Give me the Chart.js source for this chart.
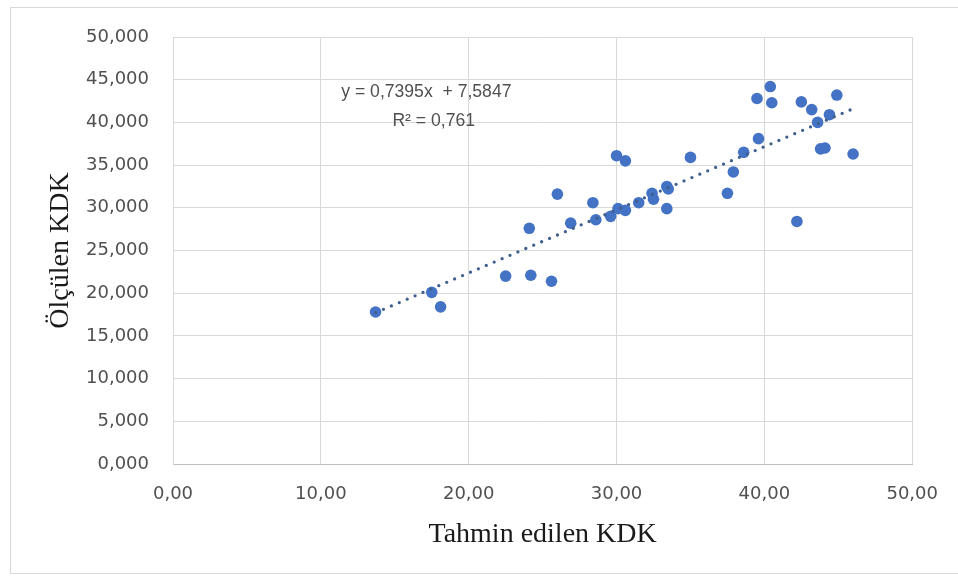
<!DOCTYPE html>
<html>
<head>
<meta charset="utf-8">
<script src="https://cdn.jsdelivr.net/npm/chart.js@4/dist/chart.umd.min.js"></script>
<style>
  html, body { margin: 0; padding: 0; background: #ffffff; }
  #wrap { position: relative; width: 958px; height: 581px; overflow: hidden; }
  #frame { position: absolute; left: 10px; top: 7px; width: 1000px; height: 565px;
           border: 1px solid #d9d9d9; border-right: none; pointer-events: none; }
  canvas { position: absolute; left: 0; top: 0; }
</style>
</head>
<body>
<div id="wrap">
  <div id="frame"></div>
  <canvas id="chart" width="958" height="581"></canvas>
</div>
<script>
// Tahmin edilen (predicted) vs. ölçülen (measured) KDK
const predicted = [13.7, 17.5, 18.1, 22.5, 24.2, 25.6, 24.1, 26.0, 26.9, 28.4,
                   28.6, 29.6, 30.1, 30.6, 31.5, 32.4, 32.5, 30.0, 30.6, 33.4,
                   33.5, 33.4, 35.0, 37.5, 37.9, 38.6, 39.6, 39.5, 40.4, 40.5,
                   42.2, 42.5, 43.2, 43.6, 43.8, 44.1, 44.4, 44.9, 46.0];
const measured  = [17.8, 20.1, 18.4, 22.0, 22.1, 21.4, 27.6, 31.6, 28.2, 30.6,
                   28.6, 29.0, 29.9, 29.7, 30.6, 31.7, 31.0, 36.1, 35.5, 32.5,
                   32.2, 29.9, 35.9, 31.7, 34.2, 36.5, 38.1, 42.8, 44.2, 42.3,
                   28.4, 42.4, 41.5, 40.0, 36.9, 37.0, 40.9, 43.2, 36.3];

// Linear trendline coefficients
const slope = 0.7395;
const intercept = 7.5847;
const rSquared = 0.761;

const xTickLabels = ['0,00', '10,00', '20,00', '30,00', '40,00', '50,00'];
const yTickLabels = ['0,000', '5,000', '10,000', '15,000', '20,000', '25,000',
                     '30,000', '35,000', '40,000', '45,000', '50,000'];

const equationLines = [
  { text: 'y = 0,7395x  + 7,5847', x: 11.38, y: 43.6 },
  { text: 'R\u00B2 = 0,761', x: 14.84, y: 40.2 }
];

const points = predicted.map((x, i) => ({ x: x, y: measured[i] }));
const xMin = Math.min(...predicted);
const xMax = Math.max(...predicted);
const trend = [
  { x: xMin, y: slope * xMin + intercept },
  { x: xMax, y: slope * xMax + intercept }
];

const equationLabel = {
  id: 'equationLabel',
  afterDatasetsDraw(chart) {
    const { ctx, scales } = chart;
    ctx.save();
    ctx.font = '17.6px "Liberation Sans", Arial, sans-serif';
    ctx.fillStyle = '#505050';
    ctx.textAlign = 'left';
    ctx.textBaseline = 'middle';
    equationLines.forEach(l => {
      ctx.fillText(l.text, scales.x.getPixelForValue(l.x), scales.y.getPixelForValue(l.y));
    });
    ctx.restore();
  }
};

const tickFont = { family: '"DejaVu Sans", Verdana, sans-serif', size: 18 };
const titleFont = { family: '"Liberation Serif", "Times New Roman", serif', size: 28 };

new Chart(document.getElementById('chart'), {
  type: 'scatter',
  data: {
    datasets: [
      {
        type: 'line',
        label: 'Doğrusal (Ölçülen KDK)',
        data: trend,
        borderColor: '#3f5f8e',
        borderWidth: 3.3,
        borderDash: [0, 8.6],
        borderCapStyle: 'round',
        pointRadius: 0,
        fill: false
      },
      {
        label: 'Ölçülen KDK',
        data: points,
        backgroundColor: '#4472c4',
        borderColor: '#4472c4',
        borderWidth: 0,
        pointRadius: 5.8
      }
    ]
  },
  options: {
    responsive: false,
    animation: false,
    devicePixelRatio: 1,
    layout: { padding: { top: 37, right: 45, left: 0, bottom: 0 } },
    plugins: {
      legend: { display: false },
      tooltip: { enabled: false }
    },
    scales: {
      x: {
        type: 'linear',
        min: 0, max: 50,
        afterFit(scale) { scale.height = 117; },
        ticks: {
          stepSize: 10,
          padding: 20,
          color: '#505050',
          font: tickFont,
          callback: (v, i) => xTickLabels[i]
        },
        grid: { color: '#d9d9d9', lineWidth: 1, drawTicks: false },
        border: { display: true, color: '#bfbfbf', width: 1 },
        title: {
          display: true,
          text: 'Tahmin edilen KDK',
          color: '#1a1a1a',
          font: titleFont,
          padding: { top: 0, bottom: 30 }
        }
      },
      y: {
        type: 'linear',
        min: 0, max: 50,
        afterFit(scale) { scale.width = 173; },
        ticks: {
          stepSize: 5,
          padding: 24,
          color: '#505050',
          font: tickFont,
          callback: (v, i) => yTickLabels[i]
        },
        grid: { color: '#d9d9d9', lineWidth: 1, drawTicks: false },
        border: { display: true, color: '#d9d9d9', width: 1 },
        title: {
          display: true,
          text: 'Ölçülen KDK',
          color: '#1a1a1a',
          font: titleFont,
          padding: { top: 44, bottom: 0 }
        }
      }
    }
  },
  plugins: [equationLabel]
});
</script>
</body>
</html>
